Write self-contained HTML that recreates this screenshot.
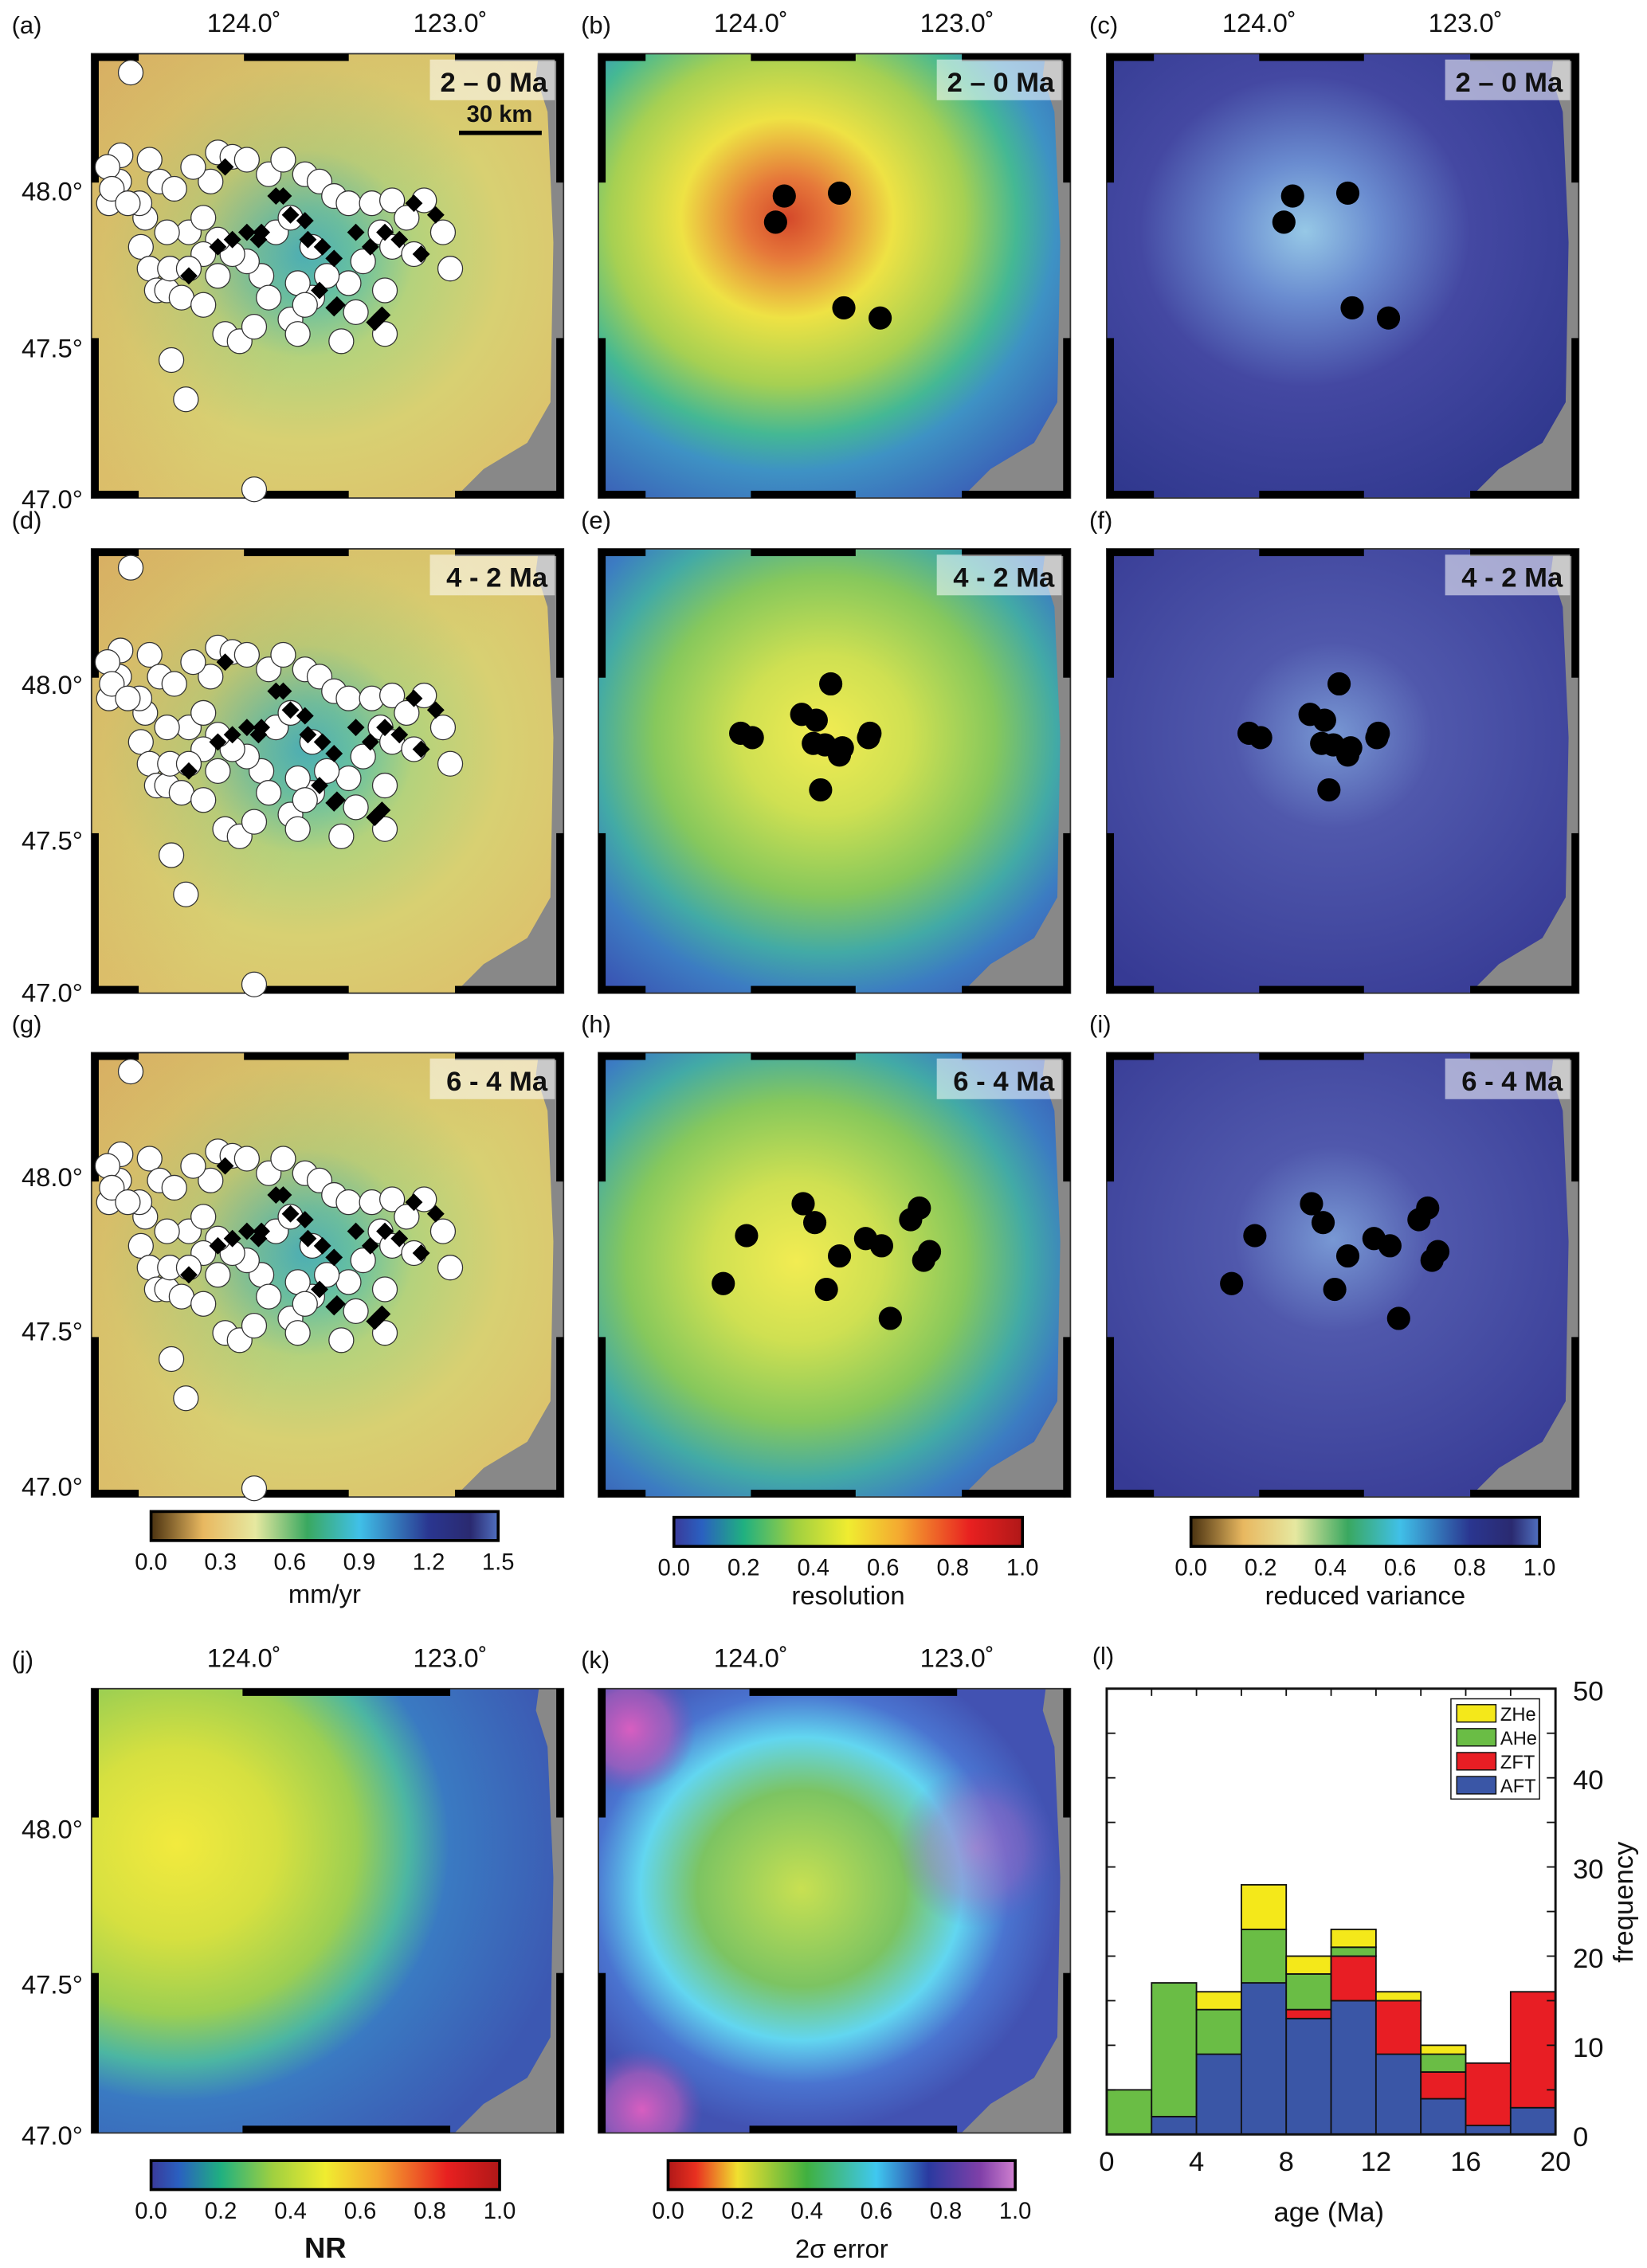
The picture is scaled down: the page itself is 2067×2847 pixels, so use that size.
<!DOCTYPE html>
<html><head><meta charset="utf-8">
<style>
html,body{margin:0;padding:0;background:#fff;}
svg{display:block;font-family:"Liberation Sans",sans-serif;}
</style></head>
<body>
<svg id="fig" xmlns="http://www.w3.org/2000/svg" width="2067" height="2847" viewBox="0 0 1134 1562" preserveAspectRatio="none">
<defs>
<clipPath id="mapClip"><rect x="0" y="0" width="325" height="306"/></clipPath>
<radialGradient id="gA" cx="0.45" cy="0.45" r="0.65"><stop offset="0" stop-color="#3fb0bc"/><stop offset="0.16" stop-color="#62c0a4"/><stop offset="0.36" stop-color="#b4d27c"/><stop offset="0.65" stop-color="#d8d072"/><stop offset="1" stop-color="#dcc26c"/></radialGradient>
<linearGradient id="gAtl" x1="0" y1="0" x2="0.6" y2="0.5"><stop offset="0" stop-color="#d49a58" stop-opacity="0.5"/><stop offset="1" stop-color="#d49a58" stop-opacity="0"/></linearGradient>
<radialGradient id="gB" cx="0.4" cy="0.37" r="0.75"><stop offset="0" stop-color="#d4482a"/><stop offset="0.12" stop-color="#e6783a"/><stop offset="0.3" stop-color="#eee244"/><stop offset="0.5" stop-color="#a6d052"/><stop offset="0.65" stop-color="#44b894"/><stop offset="0.76" stop-color="#3e92c4"/><stop offset="1" stop-color="#3a5cb6"/></radialGradient>
<radialGradient id="gC" cx="0.42" cy="0.4" r="0.7"><stop offset="0" stop-color="#96c8e6"/><stop offset="0.22" stop-color="#6a8cd0"/><stop offset="0.5" stop-color="#4448a2"/><stop offset="1" stop-color="#30388e"/></radialGradient>
<radialGradient id="gE" cx="0.48" cy="0.42" r="0.72"><stop offset="0" stop-color="#f2ec52"/><stop offset="0.25" stop-color="#cfe052"/><stop offset="0.5" stop-color="#86c85c"/><stop offset="0.68" stop-color="#42aaa6"/><stop offset="0.82" stop-color="#3c7cc2"/><stop offset="1" stop-color="#3a56b4"/></radialGradient>
<radialGradient id="gF" cx="0.48" cy="0.42" r="0.7"><stop offset="0" stop-color="#7898d4"/><stop offset="0.3" stop-color="#5058ac"/><stop offset="1" stop-color="#363a94"/></radialGradient>
<radialGradient id="gH" cx="0.42" cy="0.47" r="0.72"><stop offset="0" stop-color="#f2ec52"/><stop offset="0.25" stop-color="#cfe052"/><stop offset="0.5" stop-color="#86c85c"/><stop offset="0.68" stop-color="#42aaa6"/><stop offset="0.82" stop-color="#3c7cc2"/><stop offset="1" stop-color="#3a56b4"/></radialGradient>
<radialGradient id="gJ" cx="0.18" cy="0.35" r="0.85"><stop offset="0" stop-color="#f2ea3e"/><stop offset="0.25" stop-color="#d6e040"/><stop offset="0.45" stop-color="#9ccf52"/><stop offset="0.58" stop-color="#4cb6a2"/><stop offset="0.68" stop-color="#3a7ac2"/><stop offset="1" stop-color="#3c58b2"/></radialGradient>
<radialGradient id="gK" cx="0.43" cy="0.45" r="0.55"><stop offset="0" stop-color="#c8e052"/><stop offset="0.4" stop-color="#7cc462"/><stop offset="0.62" stop-color="#62d6f0"/><stop offset="0.8" stop-color="#4a74d0"/><stop offset="1" stop-color="#4252b2"/></radialGradient>
<radialGradient id="gMag"><stop offset="0" stop-color="#d85ec0"/><stop offset="0.6" stop-color="#b05cbc" stop-opacity="0.7"/><stop offset="1" stop-color="#8050b8" stop-opacity="0"/></radialGradient>
<linearGradient id="cbVel"><stop offset="0" stop-color="#4a3210"/><stop offset="0.15" stop-color="#e8b860"/><stop offset="0.3" stop-color="#e6e8a0"/><stop offset="0.45" stop-color="#3aa860"/><stop offset="0.6" stop-color="#40c0e8"/><stop offset="0.8" stop-color="#2a3690"/><stop offset="0.92" stop-color="#2a2a70"/><stop offset="1" stop-color="#5070c0"/></linearGradient>
<linearGradient id="cbRes"><stop offset="0" stop-color="#3a3a9a"/><stop offset="0.08" stop-color="#2a60c0"/><stop offset="0.2" stop-color="#20b080"/><stop offset="0.35" stop-color="#a0d040"/><stop offset="0.5" stop-color="#f0ec30"/><stop offset="0.65" stop-color="#f4a830"/><stop offset="0.85" stop-color="#e82020"/><stop offset="1" stop-color="#b01818"/></linearGradient>
<linearGradient id="cbErr"><stop offset="0" stop-color="#b01818"/><stop offset="0.08" stop-color="#e83020"/><stop offset="0.2" stop-color="#f0e030"/><stop offset="0.4" stop-color="#40b040"/><stop offset="0.6" stop-color="#40c8f0"/><stop offset="0.75" stop-color="#2a3aa0"/><stop offset="0.9" stop-color="#8040a8"/><stop offset="1" stop-color="#d080d0"/></linearGradient>
</defs>
</svg>
<script>
const NS='http://www.w3.org/2000/svg';
const svg=document.getElementById('fig');
function mk(tag,attrs,parent){const e=document.createElementNS(NS,tag);for(const k in attrs)e.setAttribute(k,attrs[k]);(parent||svg).appendChild(e);return e;}
function txt(x,y,s,size,anchor,weight,parent){const t=mk('text',{x:x,y:y,'font-size':size,'text-anchor':anchor||'middle','font-weight':weight||'normal',fill:'#111'},parent);t.textContent=s;return t;}

// ---------- histogram data ----------
const binStarts=[0,2,4,6,8,10,12,14,16,18];
const aftCounts=[0,2,9,17,13,15,9,4,1,3];
const zftCounts=[0,0,0,0,1,5,6,3,7,13];
const aheCounts=[5,15,5,6,4,1,0,2,0,0];
const zheCounts=[0,0,2,5,2,2,1,1,0,0];
const xTickLabels=[0,4,8,12,16,20];
const yTickLabels=[0,10,20,30,40,50];

// ---------- map point data ----------
const circlesA=[[90,50],[83,107],[82,125],[75,140],[103,110],[110,125],[100,150],[97,170],[103,185],[108,200],[115,200],[117,185],[130,160],[140,150],[145,125],[150,105],[160,108],[170,110],[185,120],[195,110],[210,120],[220,125],[230,135],[240,140],[256,140],[270,138],[280,150],[292,138],[262,160],[270,170],[285,175],[305,160],[310,185],[250,180],[240,195],[215,205],[205,195],[180,190],[170,180],[160,175],[150,165],[140,175],[130,185],[125,205],[140,210],[155,230],[165,235],[175,225],[200,220],[210,210],[235,235],[265,230],[118,248],[128,275],[175,337],[120,130],[133,115],[96,140],[115,160],[190,160],[200,150],[215,170],[225,190],[245,215],[265,200],[74,115],[77,130],[88,140],[150,190],[185,205],[205,230]];
const diamondsA=[[155,115],[160,165],[170,160],[180,160],[190,135],[200,148],[210,152],[212,165],[222,170],[230,178],[232,210],[245,160],[255,170],[265,160],[275,165],[285,140],[290,175],[300,148],[263,217],[258,222],[220,200],[230,212],[130,190],[150,170],[195,135],[178,165]];
const dotsB=[[540,135],[578,133],[534,153],[581,212],[606,219]];
const dotsE=[[510,505],[518,508],[552,492],[562,496],[572,471],[560,512],[568,513],[578,520],[598,508],[565,544],[580,515],[599,505]];
const dotsH=[[498,884],[514,851],[553,829],[561,842],[578,865],[596,853],[607,858],[627,840],[633,832],[636,868],[640,862],[569,888],[613,908]];

const W=325,H=306;
const gray=[[308,0],[325,0],[325,306],[250,306],[270,286],[300,268],[316,240],[318,130],[314,40],[306,15]];
const panels=[
 {n:'a',x:63,y:37,g:'gA',t:'2 – 0 Ma',row:1},{n:'b',x:412,y:37,g:'gB',t:'2 – 0 Ma',row:1},{n:'c',x:762,y:37,g:'gC',t:'2 – 0 Ma',row:1},
 {n:'d',x:63,y:378,g:'gA',t:'4 - 2 Ma',row:2},{n:'e',x:412,y:378,g:'gE',t:'4 - 2 Ma',row:2},{n:'f',x:762,y:378,g:'gF',t:'4 - 2 Ma',row:2},
 {n:'g',x:63,y:725,g:'gA',t:'6 - 4 Ma',row:3},{n:'h',x:412,y:725,g:'gH',t:'6 - 4 Ma',row:3},{n:'i',x:762,y:725,g:'gF',t:'6 - 4 Ma',row:3},
 {n:'j',x:63,y:1163,g:'gJ',t:'',row:4},{n:'k',x:412,y:1163,g:'gK',t:'',row:4}
];
panels.forEach(p=>{
  const g=mk('g',{transform:`translate(${p.x},${p.y})`});
  
  
  const inner=mk('g',{'clip-path':'url(#mapClip)'},g);
  const bg=mk('rect',{x:0,y:0,width:W,height:H,fill:`url(#${p.g})`},inner);
  
  
  if(p.g==='gA'){mk('rect',{x:0,y:0,width:W,height:H,fill:'url(#gAtl)'},inner);}
  if(p.n==='k'){
    [[22,28,45],[30,290,42],[260,110,55]].forEach(c=>{
      const b=mk('circle',{cx:c[0],cy:c[1],r:c[2],fill:'url(#gMag)',opacity:c[0]>200?0.5:1},inner);
      
      
    });
  }
  const gp=mk('polygon',{points:gray.map(q=>q.join(',')).join(' '),fill:'#888'},inner);
  
  
  const fr=mk('rect',{x:0,y:0,width:W,height:H,fill:'none',stroke:'#333','stroke-width':1},g);
  
  
  const tops=p.row===4?[[0.32,0.76]]:[[0,0.1],[0.323,0.545],[0.77,0.99]];
  const sides=[[0,0.29],[0.64,1]];
  tops.forEach(s=>{[0,H-5].forEach(yy=>{const r=mk('rect',{x:W*s[0],y:yy,width:W*(s[1]-s[0]),height:5,fill:'#000'},g);
    
    });});
  sides.forEach(s=>{[0,W-5].forEach(xx=>{const r=mk('rect',{x:xx,y:H*s[0],width:5,height:H*(s[1]-s[0]),fill:'#000'},g);
    
    });});
  if(p.t){
    const lb=mk('rect',{x:233,y:4,width:86,height:28,fill:'#fff',opacity:0.55},g);
    
    
    const tt=txt(314,26,p.t,19,'end','bold',g);
    
    
  }
  const pl=txt(p.x-(p.x===63?55:12),p.y-14,'('+p.n+')',17,'start');
  
  
});

// lon/lat labels
[[37,[131,239,343]],[378,[471,578,683]],[725,[810,916,1023]],[1163,[1259,1366,1470]]].forEach((r,ri)=>{
  if(ri!==1&&ri!==2){
    const cols=ri===3?[63,412]:[63,412,762];
    cols.forEach(cx=>{
      const l1=txt(cx+105,r[0]-15,'124.0˚',18);
      
      
      const l2=txt(cx+247,r[0]-15,'123.0˚',18);
      
      
    });
  }
  ['48.0°','47.5°','47.0°'].forEach((s,i)=>{
    const t=txt(57,r[1][i]+7,s,18,'end');
    
    
  });
});

const sb=mk('rect',{x:316,y:90,width:57,height:3,fill:'#000'});


const sbt=txt(344,84,'30 km',16,'middle','bold');



[0,341,688].forEach(dy=>{
  circlesA.forEach(c=>{
    const e=mk('circle',{cx:c[0],cy:c[1]+dy,r:8.5,fill:'#fff',stroke:'#333','stroke-width':0.7});
    
    
  });
  diamondsA.forEach(c=>{
    const x=c[0],y=c[1]+dy;
    const e=mk('polygon',{points:`${x},${y-6} ${x+6},${y} ${x},${y+6} ${x-6},${y}`,fill:'#000'});
    
    
  });
});
[[dotsB,[0,350]],[dotsE,[0,350]],[dotsH,[0,350]]].forEach(set=>{
  set[1].forEach(dx=>{
    set[0].forEach(c=>{
      const e=mk('circle',{cx:c[0]+dx,cy:c[1],r:8,fill:'#000'});
      
      
    });
  });
});

function colorbar(x,y,w,grad,labels,title,bold,ty){
  const r=mk('rect',{x:x,y:y,width:w,height:20,fill:`url(#${grad})`,stroke:'#000','stroke-width':2});
  
  
  labels.forEach((s,i)=>{
    const t=txt(x+w*i/(labels.length-1),y+40,s,16);
    
    
  });
  const tt=txt(x+w/2,ty,title,bold?20:18,'middle',bold?'bold':'normal');
  
  
}
const six=['0.0','0.2','0.4','0.6','0.8','1.0'];
colorbar(104,1041,239,'cbVel',['0.0','0.3','0.6','0.9','1.2','1.5'],'mm/yr',false,1104);
colorbar(464,1045,240,'cbRes',six,'resolution',false,1105);
colorbar(820,1045,240,'cbVel',six,'reduced variance',false,1105);
colorbar(104,1488,240,'cbRes',six,'NR',true,1555);
colorbar(460,1488,239,'cbErr',six,'2σ error',false,1555);

const hx0=762,hx1=1071,hy0=1470,hy1=1163;
const xS=v=>hx0+(v/20)*(hx1-hx0);
const yS=v=>hy0-(v/50)*(hy0-hy1);
const pll=txt(752,1146,'(l)',17,'start');


const series=[['AFT',aftCounts,'#3a56a6'],['ZFT',zftCounts,'#e81e24'],['AHe',aheCounts,'#6abd45'],['ZHe',zheCounts,'#f4e81a']];
binStarts.forEach((b,i)=>{
  let base=0;
  series.forEach(s=>{
    const v=s[1][i];
    if(v>0){
      const r=mk('rect',{x:xS(b),y:yS(base+v),width:xS(b+2)-xS(b),height:yS(base)-yS(base+v),fill:s[2],stroke:'#111','stroke-width':1});
      
      
    }
    base+=v;
  });
});
const hf=mk('rect',{x:hx0,y:hy1,width:hx1-hx0,height:hy0-hy1,fill:'none',stroke:'#111','stroke-width':1.6});


for(let v=0;v<=50;v+=5){
  const y=yS(v);
  const a=mk('line',{x1:hx0,x2:hx0+6,y1:y,y2:y,stroke:'#111'});
  
  
  const b=mk('line',{x1:hx1-6,x2:hx1,y1:y,y2:y,stroke:'#111'});
  
  
}
for(let v=0;v<=20;v+=2){
  const x=xS(v);
  const a=mk('line',{x1:x,x2:x,y1:hy1,y2:hy1+5,stroke:'#111'});
  
  
}
yTickLabels.forEach(v=>{
  const t=txt(hx1+12,yS(v)+8,String(v),19,'start');
  
  
});
xTickLabels.forEach(v=>{
  const t=txt(xS(v),1495,String(v),19);
  
  
});
const xt=txt(915,1530,'age (Ma)',19);


const yt=txt(0,0,'frequency',19);
yt.setAttribute('transform','translate(1124,1310) rotate(-90)');


const lg=mk('g',{});


mk('rect',{x:999,y:1170,width:61,height:69,fill:'#fff',stroke:'#111','stroke-width':0.8},lg);
[['ZHe','#f4e81a'],['AHe','#6abd45'],['ZFT','#e81e24'],['AFT','#3a56a6']].forEach((s,i)=>{
  const y=1174+i*16.5;
  const sw=mk('rect',{x:1003,y:y,width:27,height:12,fill:s[1],stroke:'#111','stroke-width':0.8},lg);
  
  
  const t=txt(1033,y+11,s[0],13,'start','normal',lg);
  
  
});
</script>
</body></html>
